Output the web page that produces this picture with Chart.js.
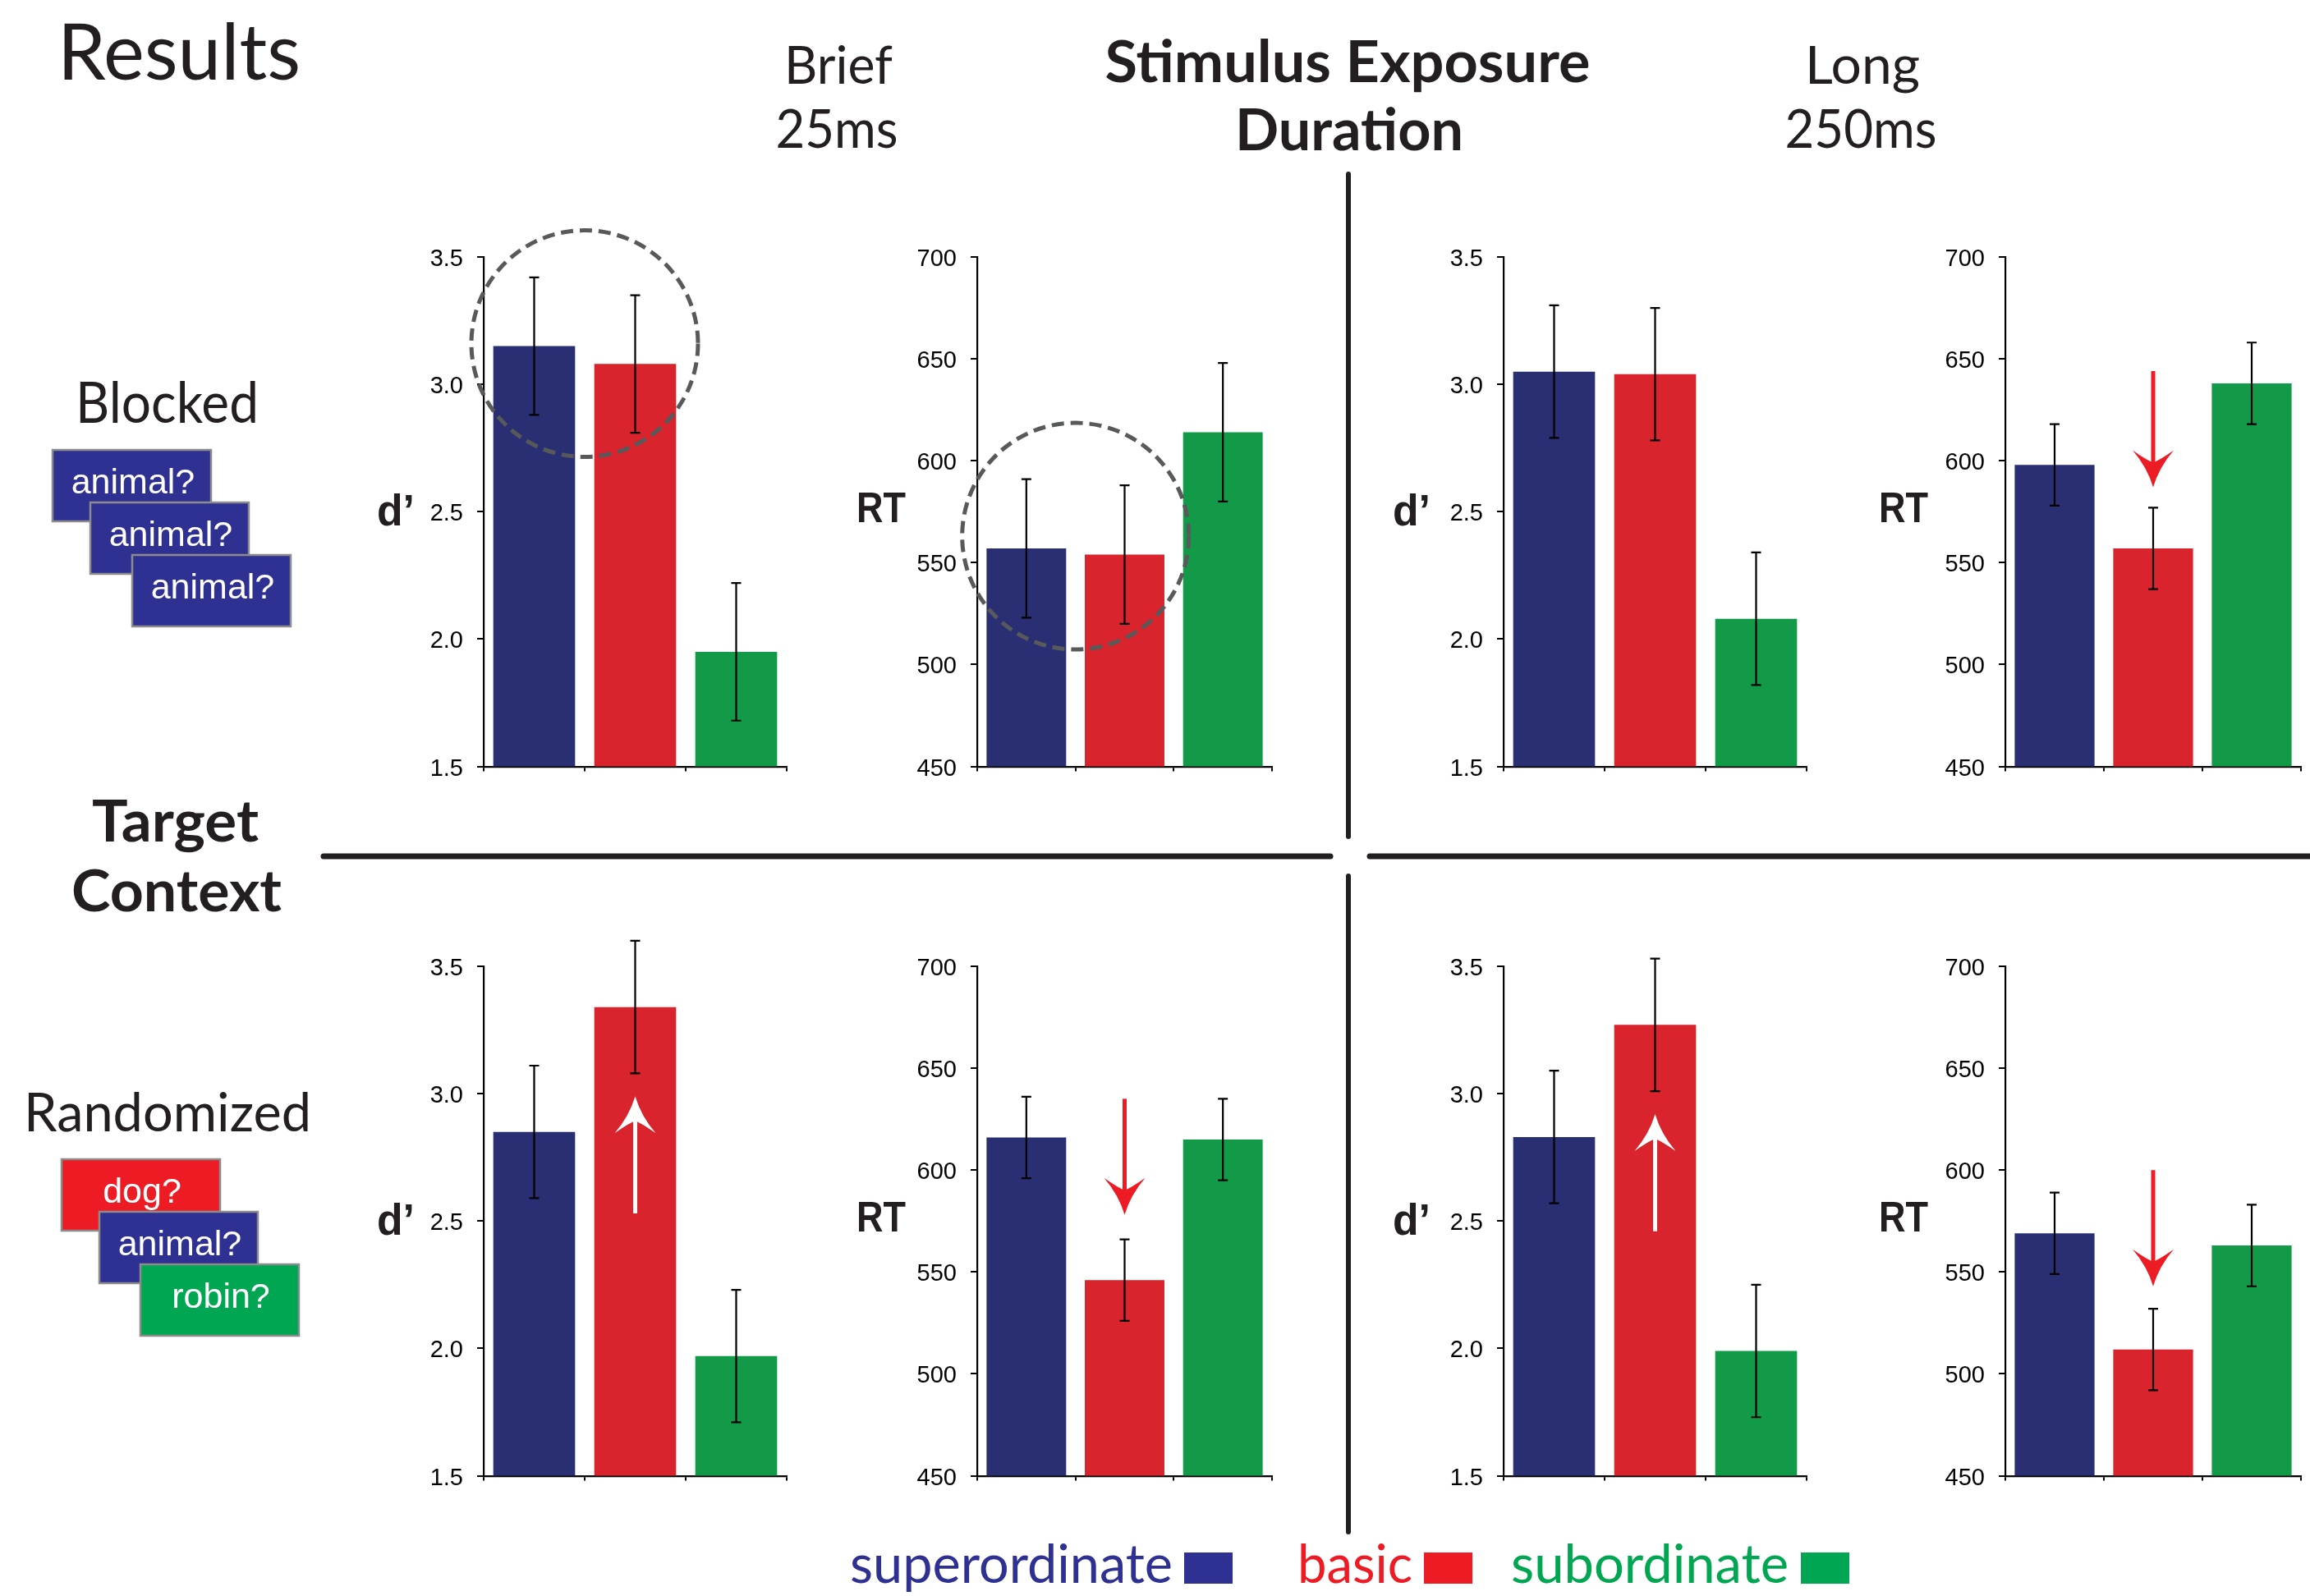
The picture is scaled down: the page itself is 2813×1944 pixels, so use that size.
<!DOCTYPE html>
<html><head><meta charset="utf-8">
<script src="https://cdn.jsdelivr.net/npm/chart.js@4.4.0/dist/chart.umd.min.js"></script>
<style>
html,body{margin:0;padding:0;background:#fff;}
#page{position:relative;width:2813px;height:1944px;overflow:hidden;background:#fff;}
#page canvas{position:absolute;}
#page svg{position:absolute;left:0;top:0;pointer-events:none;}
</style></head>
<body><div id="page"></div>
<script>
// ---------------- DATA ----------------
const categories = ['superordinate', 'basic', 'subordinate'];
const dTicks = [1.5, 2.0, 2.5, 3.0, 3.5];
const rtTicks = [450, 500, 550, 600, 650, 700];

const dBlockedBrief = [3.15, 3.08, 1.95];
const dBlockedBriefErr = [0.27, 0.27, 0.27];
const rtBlockedBrief = [557, 554, 614];
const rtBlockedBriefErr = [34, 34, 34];
const dBlockedLong = [3.05, 3.04, 2.08];
const dBlockedLongErr = [0.26, 0.26, 0.26];
const rtBlockedLong = [598, 557, 638];
const rtBlockedLongErr = [20, 20, 20];

const dRandomBrief = [2.85, 3.34, 1.97];
const dRandomBriefErr = [0.26, 0.26, 0.26];
const rtRandomBrief = [616, 546, 615];
const rtRandomBriefErr = [20, 20, 20];
const dRandomLong = [2.83, 3.27, 1.99];
const dRandomLongErr = [0.26, 0.26, 0.26];
const rtRandomLong = [569, 512, 563];
const rtRandomLongErr = [20, 20, 20];

// annotation arrows (category index, from value, to value)
const arrowRTBlockedLong = [1, 644, 587];
const arrowDRandomBrief = [1, 2.53, 2.99];
const arrowRTRandomBrief = [1, 635, 578];
const arrowDRandomLong = [1, 2.46, 2.92];
const arrowRTRandomLong = [1, 600, 543];
// dashed highlight circles (category position, value)
const circleDBlockedBrief = [0.5, 3.16];
const circleRTBlockedBrief = [0.5, 563];

// ---------------- STYLE ----------------
const barColors = ['#2a2e72', '#d9232d', '#129a48'];
const brightBlue = '#2e3192', brightRed = '#ed1c24', brightGreen = '#00a651';
const ink = '#231f20';
const axisFont = 'Liberation Sans, Arial, sans-serif';

const page = document.getElementById('page');

function buildConfig(kind, values, errs, arrows, circles, padL, padT, padR, padB) {
  const isD = kind === 'd';
  const ticks = isD ? dTicks : rtTicks;
  const annot = {
    id: 'annot',
    afterDatasetsDraw(chart) {
      const ctx = chart.ctx, xs = chart.scales.x, ys = chart.scales.y;
      const meta = chart.getDatasetMeta(0);
      ctx.save();
      ctx.strokeStyle = '#000'; ctx.lineWidth = 2.2; ctx.lineCap = 'butt';
      meta.data.forEach((bar, i) => {
        const v = values[i];
        const t = ys.getPixelForValue(v + errs[i]);
        const b = ys.getPixelForValue(v - errs[i]);
        ctx.beginPath();
        ctx.moveTo(bar.x, t); ctx.lineTo(bar.x, b);
        ctx.moveTo(bar.x - 6, t); ctx.lineTo(bar.x + 6, t);
        ctx.moveTo(bar.x - 6, b); ctx.lineTo(bar.x + 6, b);
        ctx.stroke();
      });
      arrows.forEach(a => {
        const [idx, from, to, col] = a;
        const x = xs.getPixelForValue(idx);
        const y0 = ys.getPixelForValue(from), y1 = ys.getPixelForValue(to);
        const dir = Math.sign(y1 - y0);
        ctx.strokeStyle = col; ctx.fillStyle = col; ctx.lineWidth = 5;
        ctx.beginPath(); ctx.moveTo(x, y0); ctx.lineTo(x, y1 - dir * 28); ctx.stroke();
        ctx.beginPath();
        ctx.moveTo(x, y1);
        ctx.quadraticCurveTo(x + 7, y1 - dir * 24, x + 25, y1 - dir * 45);
        ctx.quadraticCurveTo(x + 8, y1 - dir * 33, x, y1 - dir * 30);
        ctx.quadraticCurveTo(x - 8, y1 - dir * 33, x - 25, y1 - dir * 45);
        ctx.quadraticCurveTo(x - 7, y1 - dir * 24, x, y1);
        ctx.closePath(); ctx.fill();
      });
      circles.forEach(c => {
        const cx = xs.getPixelForValue(c[0]), cy = ys.getPixelForValue(c[1]);
        ctx.strokeStyle = '#58595b'; ctx.lineWidth = 5; ctx.setLineDash([15, 8]);
        ctx.beginPath(); ctx.arc(cx, cy, 138, 0, Math.PI * 2); ctx.stroke();
        ctx.setLineDash([]);
      });
      ctx.restore();
    }
  };
  return {
    type: 'bar',
    data: { labels: categories, datasets: [{ data: values, backgroundColor: barColors, borderWidth: 0,
      barPercentage: 0.81, categoryPercentage: 1.0 }] },
    options: {
      responsive: false, maintainAspectRatio: false, animation: false, devicePixelRatio: 1,
      layout: { padding: { top: padT, right: padR, left: 0, bottom: 0 } },
      plugins: { legend: { display: false }, tooltip: { enabled: false }, title: { display: false } },
      scales: {
        x: {
          offset: true,
          grid: { display: true, offset: true, drawOnChartArea: false, drawTicks: true, tickLength: 6, color: '#000', lineWidth: 2 },
          border: { display: true, color: '#000', width: 2.2 },
          ticks: { display: false },
          afterFit(s) { s.height = padB; }
        },
        y: {
          min: ticks[0], max: ticks[ticks.length - 1],
          afterBuildTicks(s) { s.ticks = ticks.map(v => ({ value: v })); },
          grid: { drawOnChartArea: false, drawTicks: true, tickLength: 8, color: '#000', lineWidth: 2 },
          border: { display: true, color: '#000', width: 2.2 },
          ticks: { padding: 17, labelOffset: 3, color: '#000', font: { family: axisFont, size: 29 },
            callback: v => isD ? Number(v).toFixed(1) : String(v) },
          afterFit(s) { s.width = padL; }
        }
      }
    },
    plugins: [annot]
  };
}

function makeChart(area, kind, values, errs, arrows, circles) {
  const [L, T, R, B] = area;
  const padL = 130, padT = 50, padR = 12, padB = 30;
  let w = R - L + padL + padR, h = B - T + padT + padB;
  let chart = null, cv = null;
  for (let pass = 0; pass < 3; pass++) {
    if (chart) { chart.destroy(); cv.remove(); }
    cv = document.createElement('canvas');
    cv.width = Math.round(w); cv.height = Math.round(h);
    cv.style.width = Math.round(w) + 'px'; cv.style.height = Math.round(h) + 'px';
    cv.style.left = (L - padL) + 'px'; cv.style.top = (T - padT) + 'px';
    page.appendChild(cv);
    chart = new Chart(cv, buildConfig(kind, values, errs, arrows, circles, padL, padT, padR, padB));
    const ca = chart.chartArea;
    const dw = (R - L) - (ca.right - ca.left), dh = (B - T) - (ca.bottom - ca.top);
    if (Math.abs(dw) < 0.5 && Math.abs(dh) < 0.5) break;
    w += dw; h += dh;
  }
  const ca = chart.chartArea;
  cv.style.left = (L - ca.left) + 'px';
  cv.style.top = (T - ca.top) + 'px';
}

const rowTop = [313, 934], rowBot = [1177, 1798];
const colA = [589, 958], colB = [1190, 1549], colC = [1831, 2200], colD = [2442, 2802];

makeChart([colA[0], rowTop[0], colA[1], rowTop[1]], 'd', dBlockedBrief, dBlockedBriefErr, [], [circleDBlockedBrief]);
makeChart([colB[0], rowTop[0], colB[1], rowTop[1]], 'rt', rtBlockedBrief, rtBlockedBriefErr, [], [circleRTBlockedBrief]);
makeChart([colC[0], rowTop[0], colC[1], rowTop[1]], 'd', dBlockedLong, dBlockedLongErr, [], []);
makeChart([colD[0], rowTop[0], colD[1], rowTop[1]], 'rt', rtBlockedLong, rtBlockedLongErr, [[...arrowRTBlockedLong, brightRed]], []);
makeChart([colA[0], rowBot[0], colA[1], rowBot[1]], 'd', dRandomBrief, dRandomBriefErr, [[...arrowDRandomBrief, '#ffffff']], []);
makeChart([colB[0], rowBot[0], colB[1], rowBot[1]], 'rt', rtRandomBrief, rtRandomBriefErr, [[...arrowRTRandomBrief, brightRed]], []);
makeChart([colC[0], rowBot[0], colC[1], rowBot[1]], 'd', dRandomLong, dRandomLongErr, [[...arrowDRandomLong, '#ffffff']], []);
makeChart([colD[0], rowBot[0], colD[1], rowBot[1]], 'rt', rtRandomLong, rtRandomLongErr, [[...arrowRTRandomLong, brightRed]], []);

// ---------------- SVG overlay: text, separators, stimulus boxes, legend ----------------
const NS = 'http://www.w3.org/2000/svg';
const svg = document.createElementNS(NS, 'svg');
svg.setAttribute('width', 2813); svg.setAttribute('height', 1944);
page.appendChild(svg);
function el(name, attrs) { const e = document.createElementNS(NS, name); for (const k in attrs) e.setAttribute(k, attrs[k]); svg.appendChild(e); return e; }
function txt(s, x, y, o) {
  const a = { x, y, 'font-family': o.family || 'Lato, sans-serif', 'font-size': o.size, 'font-weight': o.weight || 400, fill: o.color || ink };
  if (o.anchor) a['text-anchor'] = o.anchor;
  if (o.len) { a.textLength = o.len; a.lengthAdjust = 'spacingAndGlyphs'; }
  el('text', a).textContent = s;
}

// header
txt('Results', 70, 97, { size: 95, weight: 400, len: 296 });
txt('Brief', 1021, 102, { size: 63, weight: 400, anchor: 'middle', len: 132 });
txt('25ms', 1019, 180, { size: 65, weight: 400, anchor: 'middle', len: 149 });
txt('Stimulus Exposure', 1641, 100, { size: 70, weight: 700, anchor: 'middle', len: 591 });
txt('Duration', 1643, 183, { size: 70, weight: 700, anchor: 'middle', len: 278 });
txt('Long', 2268, 102, { size: 63, weight: 400, anchor: 'middle', len: 140 });
txt('250ms', 2266, 180, { size: 65, weight: 400, anchor: 'middle', len: 185 });

// row labels
txt('Blocked', 92, 515, { size: 70, weight: 400, len: 223 });
txt('Target', 112, 1025, { size: 71, weight: 700, len: 203 });
txt('Context', 87, 1110, { size: 71, weight: 700, len: 256 });
txt('Randomized', 29, 1378, { size: 65, weight: 400, len: 350 });

// axis titles
[[459, 640], [1696, 640], [459, 1504], [1696, 1504]].forEach(p => txt('d\u2019', p[0], p[1], { family: axisFont, size: 54, weight: 700, len: 46 }));
[[1043, 636], [2288, 636], [1043, 1500], [2288, 1500]].forEach(p => txt('RT', p[0], p[1], { family: axisFont, size: 51, weight: 700, len: 60 }));

// separators
const sep = { stroke: ink, 'stroke-width': 6, 'stroke-linecap': 'round' };
el('line', { x1: 1642, y1: 212, x2: 1642, y2: 1019, ...sep });
el('line', { x1: 1642, y1: 1067, x2: 1642, y2: 1866, ...sep });
el('line', { x1: 394, y1: 1043, x2: 1620, y2: 1043, ...sep, 'stroke-width': 7 });
el('line', { x1: 1668, y1: 1043, x2: 2820, y2: 1043, ...sep, 'stroke-width': 7 });

// stimulus boxes
function box(x, y, fill, label) {
  el('rect', { x, y, width: 193, height: 87, fill, stroke: '#8c8c8c', 'stroke-width': 2.5 });
  txt(label, x + 98, y + 53, { family: axisFont, size: 43, weight: 400, anchor: 'middle', color: '#ffffff' });
}
box(64, 548, brightBlue, 'animal?');
box(110, 612, brightBlue, 'animal?');
box(161, 676, brightBlue, 'animal?');
box(75, 1412, brightRed, 'dog?');
box(121, 1476, brightBlue, 'animal?');
box(171, 1540, brightGreen, 'robin?');

// legend
txt('superordinate', 1035, 1928, { size: 66, weight: 400, color: brightBlue, len: 393 });
el('rect', { x: 1442, y: 1891, width: 59, height: 38, fill: brightBlue });
txt('basic', 1580, 1928, { size: 66, weight: 400, color: brightRed, len: 140 });
el('rect', { x: 1734, y: 1891, width: 59, height: 38, fill: brightRed });
txt('subordinate', 1840, 1928, { size: 66, weight: 400, color: brightGreen, len: 338 });
el('rect', { x: 2193, y: 1891, width: 59, height: 38, fill: brightGreen });
</script>
</body></html>
